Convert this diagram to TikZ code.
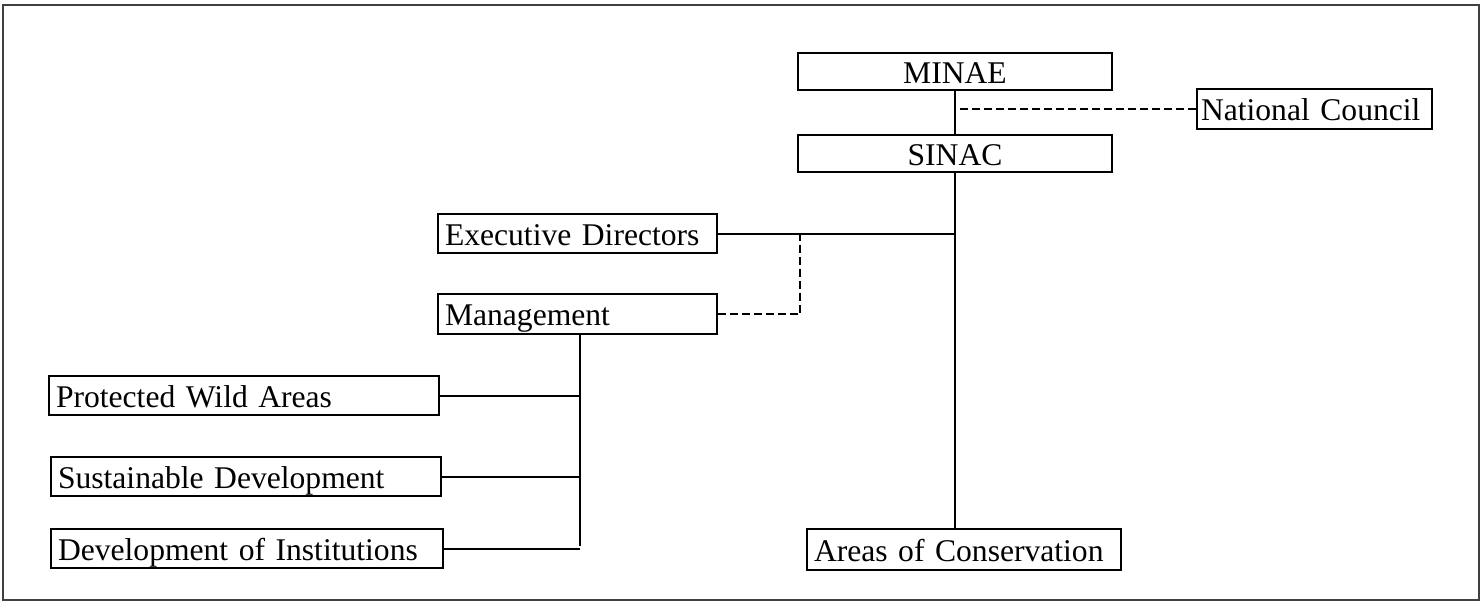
\documentclass[tikz,border=0pt]{standalone}
\usepackage{fontspec}
\setmainfont{Liberation Serif}
\begin{document}
\begin{tikzpicture}[x=0.5pt,y=-0.5pt,
  line width=1pt,
  every node/.style={font=\fontsize{15.8}{19}\selectfont},
  cbox/.style={draw, anchor=north west, inner xsep=3pt, inner ysep=0pt, align=center, text height=14pt, text depth=2.5pt},
  lbox/.style={draw, anchor=north west, inner xsep=3.5pt, inner ysep=0pt, align=left, text height=14pt, text depth=2.5pt},
  dsh/.style={dash pattern=on 4pt off 2pt}]
\useasboundingbox (0,0) rectangle (1481,602);
\draw[line width=1pt, black!75] (3,5) rectangle (1479,600);

\node[cbox, text width=151pt, minimum height=18.5pt] (minae) at (797,52) {MINAE};
\node[cbox, text width=151pt, minimum height=18.5pt] (sinac) at (797,134) {SINAC};
\node[lbox, inner xsep=2pt, text width=113.5pt, minimum height=20pt] (nc) at (1196,88) {National Council};
\node[lbox, text width=132.5pt, minimum height=19.5pt] (exec) at (437,213) {Executive Directors};
\node[lbox, text width=132.5pt, minimum height=20pt] (mgmt) at (437,293) {Management};
\node[lbox, text width=188pt, minimum height=19.5pt] (pwa) at (48,375) {Protected Wild Areas};
\node[lbox, text width=188pt, minimum height=19.5pt] (sd) at (50,456) {Sustainable Development};
\node[lbox, text width=189pt, minimum height=19.5pt] (doi) at (50,528) {Development of Institutions};
\node[lbox, text width=150pt, minimum height=20.5pt] (aoc) at (806,528) {Areas of Conservation};

\coordinate (dj) at (800,232.5);
\coordinate (bus) at (580,546);

\draw (minae.south) -- (sinac.north);
\draw[dsh] (nc.west) -- (minae.south |- nc.west);
\draw (sinac.south) -- (sinac.south |- aoc.north);
\draw (exec.east) -- (sinac.south |- exec.east);
\draw[dsh] (dj) |- (mgmt.east);
\draw (mgmt.south -| bus) -- (bus);
\draw (pwa.east) -- (pwa.east -| bus);
\draw (sd.east) -- (sd.east -| bus);
\draw (doi.east) -- (doi.east -| bus);
\end{tikzpicture}
\end{document}
